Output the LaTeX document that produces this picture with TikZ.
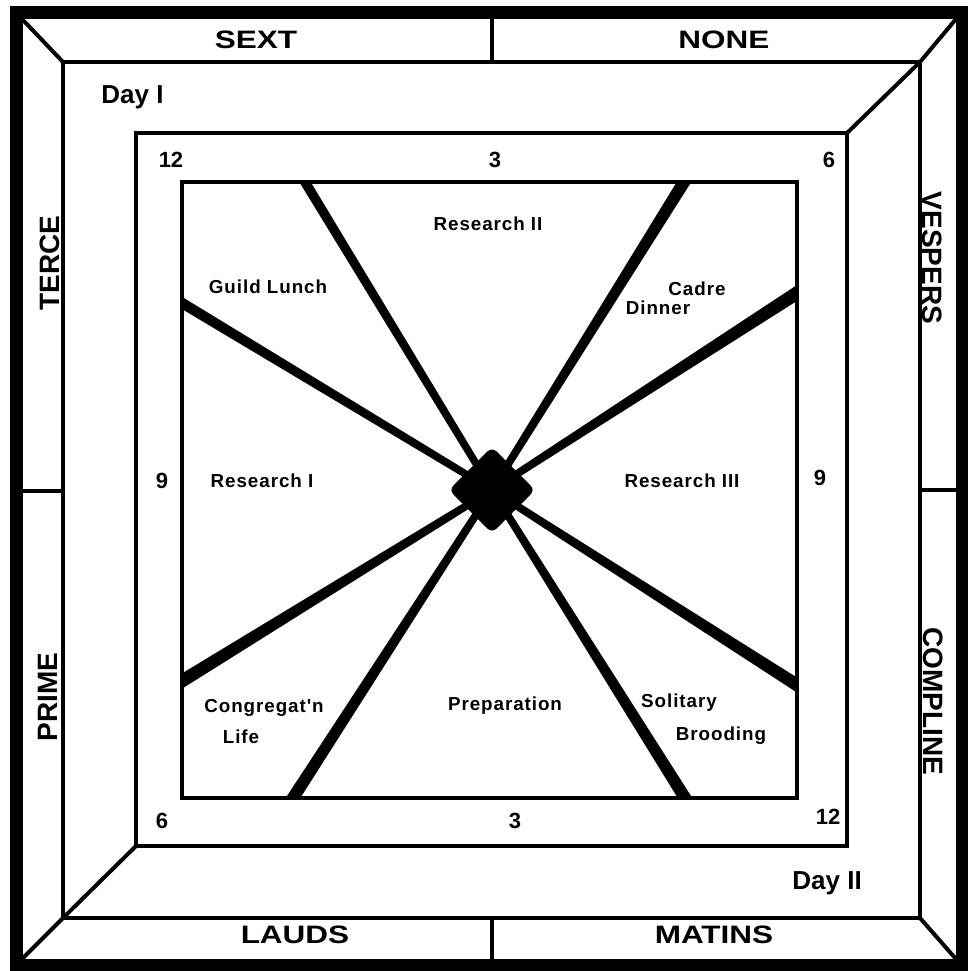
\documentclass[tikz,border=0pt]{standalone}
\usepackage{fontspec}
\setmainfont{Liberation Sans}
\newfontfamily\bandfont{Liberation Sans}[FakeStretch=1.25]
\newfontfamily\labelfont{Liberation Sans}[LetterSpace=5]
\usetikzlibrary{shapes.geometric, calc}

\tikzset{
  frame/.style={line width=2pt, line join=miter},
  band/.style={font=\bandfont\bfseries\fontsize{12.6}{14}\selectfont, anchor=base, inner sep=0pt},
  side/.style={font=\bfseries\fontsize{14}{16}\selectfont, inner sep=0pt},
  hour/.style={font=\bfseries\fontsize{11}{12}\selectfont, anchor=base, inner sep=0pt},
  day/.style={font=\bfseries\fontsize{13}{14}\selectfont, anchor=base west, inner sep=0pt},
  activity/.style={font=\labelfont\bfseries\fontsize{9.4}{11}\selectfont, anchor=base, inner sep=0pt},
  hubstone/.style={diamond, fill, minimum size=43pt, inner sep=0pt, rounded corners=3pt},
}
% tapered spoke from the hub out to #1, half width #2 at the rim
\newcommand\drawspoke[2]{%
  \coordinate (tip) at ($(hub.center)!1.1!(#1)$);
  \fill ($(hub.center)!1.8pt!90:(tip)$) -- ($(tip)!#2!-90:(hub.center)$)
    -- ($(tip)!#2!90:(hub.center)$) -- ($(hub.center)!1.8pt!-90:(tip)$) -- cycle;}

\begin{document}
\begin{tikzpicture}[x=0.5pt, y=-0.5pt]
\useasboundingbox (0,0) rectangle (968,971);
% corners of the squares
\coordinate (a1) at (22,19);   \coordinate (a2) at (956,19);
\coordinate (a3) at (956,959); \coordinate (a4) at (22,959);
\coordinate (b1) at (63,62);   \coordinate (b2) at (920,62);
\coordinate (b3) at (920,918); \coordinate (b4) at (63,918);
\coordinate (c1) at (136,133); \coordinate (c2) at (847,133);
\coordinate (c3) at (847,846); \coordinate (c4) at (136,846);
\coordinate (d1) at (182,182); \coordinate (d3) at (797,798);

% frames
\draw[line width=6.5pt] (16,12.5) rectangle (962,965);
\draw[frame] (b1) rectangle (b3);
\draw[frame] (c1) rectangle (c3);
\draw[frame] (d1) rectangle (d3);
\draw[frame] (a1) -- (b1) (a3) -- (b3) (a2) -- (b2) -- (c2) (a4) -- (b4) -- (c4);
\draw[frame] (492,19) -- (492,62) (492,918) -- (492,959)
    (22,491) -- (63,491) (920,490) -- (956,490);

% spokes
\coordinate (s1) at (305,182); \coordinate (s2) at (684,182);
\coordinate (s3) at (797,293); \coordinate (s4) at (797,685);
\coordinate (s5) at (685,798); \coordinate (s6) at (293,798);
\coordinate (s7) at (182,681); \coordinate (s8) at (182,303);
\node[hubstone] at(492, 490)(hub){};
\begin{scope}
\clip (d1) rectangle (d3);
\foreach \s/\w in {s1/2.5pt, s2/3.2pt, s3/3.5pt, s4/3.3pt,
    s5/3.2pt, s6/3.2pt, s7/3.4pt, s8/2.7pt}
  \drawspoke{\s}{\w};
\end{scope}
\node[hubstone] at(492, 490){};

% offices
\node[band] at(256, 48)(sext){SEXT};
\node[band] at(724, 48)(none){NONE};
\node[band] at(295, 943)(lauds){LAUDS};
\node[band] at(714, 943)(matins){MATINS};
\node[side, rotate=90] at(50, 263)(terce){TERCE};
\node[side, rotate=90] at(48, 697)(prime){PRIME};
\node[side, rotate=-90] at(932, 258)(vespers){VESPERS};
\node[side, rotate=-90] at(933, 701)(compline){COMPLINE};
\node[day] at(101, 103)(day1){Day I};
\node[day] at(792, 889)(day2){Day II};

% hours
\node[hour] at(171, 167)(h12a){12};
\node[hour] at(495, 167)(h3a){3};
\node[hour] at(829, 167)(h6a){6};
\node[hour] at(162, 488)(h9a){9};
\node[hour] at(820, 485)(h9b){9};
\node[hour] at(162, 828)(h6b){6};
\node[hour] at(515, 828)(h3b){3};
\node[hour] at(828, 824)(h12b){12};

% activities
\node[activity] at(488, 230)(res2){Research II};
\node[activity] at(268, 293)(guild){Guild Lunch};
\node[activity] at(697, 295)(cadre){Cadre};
\node[activity] at(658, 314)(dinner){Dinner};
\node[activity] at(262, 487)(res1){Research I};
\node[activity] at(682, 487)(res3){Research III};
\node[activity] at(264, 712)(cong){Congregat'n};
\node[activity] at(241, 743)(life){Life};
\node[activity] at(505, 710)(prep){Preparation};
\node[activity] at(679, 707)(solitary){Solitary};
\node[activity] at(721, 740)(brood){Brooding};
\end{tikzpicture}
\end{document}
